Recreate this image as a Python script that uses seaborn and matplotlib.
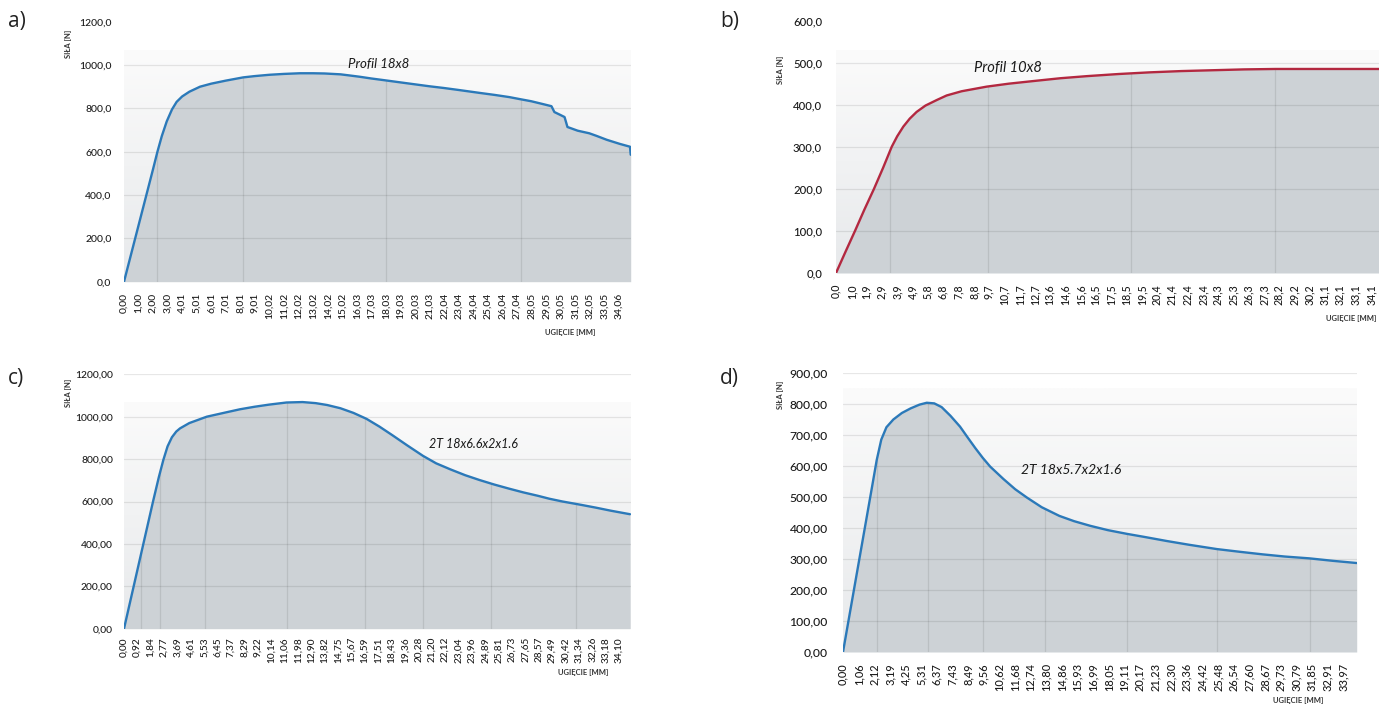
import numpy as np
import matplotlib
matplotlib.use("Agg")
import matplotlib.pyplot as plt
import seaborn as sns
from matplotlib.colors import LinearSegmentedColormap

sns.set_theme(style="white")
plt.rcParams['font.family'] = ['Lato', 'DejaVu Sans']

# ---------------- data ----------------
# a) Profil 18x8
a_x = [0.00, 0.50, 1.00, 1.50, 2.00, 2.30, 2.60, 2.94, 3.30, 3.62, 4.00, 4.50, 5.23, 6.00,
       7.00, 8.20, 9.00, 10.00, 11.00, 12.10, 13.00, 13.80, 14.90, 15.50, 16.20, 17.00, 17.90,
       19.00, 20.00, 21.00, 22.00, 23.00, 24.50, 25.50, 26.50, 27.20, 28.00, 28.80, 29.40, 29.60,
       30.00, 30.30, 30.50, 31.20, 32.00, 32.50, 33.20, 34.10, 34.80, 34.85]
a_y = [0, 130, 260, 390, 520, 600, 672, 740, 795, 830, 855, 877, 900, 914,
       928, 943, 949, 955, 959, 962, 962, 961, 957, 952, 946, 938, 930,
       920, 911, 902, 894, 885, 871, 862, 852, 843, 833, 820, 810, 783,
       770, 760, 714, 697, 685, 673, 655, 636, 623, 586]
a_xticklabels = ["0,00", "1,00", "2,00", "3,00", "4,01", "5,01", "6,01", "7,01", "8,01", "9,01",
                 "10,02", "11,02", "12,02", "13,02", "14,02", "15,02", "16,03", "17,03", "18,03",
                 "19,03", "20,03", "21,03", "22,04", "23,04", "24,04", "25,04", "26,04", "27,04",
                 "28,05", "29,05", "30,05", "31,05", "32,05", "33,05", "34,06"]
a_yticks = [0, 200, 400, 600, 800, 1000, 1200]
a_yticklabels = ["0,0", "200,0", "400,0", "600,0", "800,0", "1000,0", "1200,0"]
a_title = "Profil 18x8"

# b) Profil 10x8
b_x = [0.00, 0.60, 1.21, 1.80, 2.42, 3.00, 3.55, 3.90, 4.29, 4.70, 5.14, 5.70, 6.41, 7.05, 8.00,
       9.60, 11.00, 12.50, 14.30, 16.00, 18.00, 20.00, 22.00, 24.00, 26.00, 28.00, 30.00, 32.00, 34.60]
b_y = [0, 50, 100, 150, 200, 250, 300, 325, 348, 367, 383, 398, 411, 422, 432,
       443, 450, 456, 463, 468, 473, 477, 480, 482, 484, 485, 485, 485, 485]
b_xticklabels = ["0,0", "1,0", "1,9", "2,9", "3,9", "4,9", "5,8", "6,8", "7,8", "8,8", "9,7", "10,7",
                 "11,7", "12,7", "13,6", "14,6", "15,6", "16,5", "17,5", "18,5", "19,5", "20,4",
                 "21,4", "22,4", "23,4", "24,3", "25,3", "26,3", "27,3", "28,2", "29,2", "30,2",
                 "31,1", "32,1", "33,1", "34,1"]
b_yticks = [0, 100, 200, 300, 400, 500, 600]
b_yticklabels = ["0,0", "100,0", "200,0", "300,0", "400,0", "500,0", "600,0"]
b_title = "Profil 10x8"

# c) 2T 18x6.6x2x1.6
c_x = [0.00, 0.50, 1.00, 1.50, 2.00, 2.40, 2.71, 3.00, 3.30, 3.60, 3.86, 4.50, 5.70, 7.00,
       7.99, 9.00, 10.00, 11.20, 12.30, 13.20, 14.00, 14.90, 15.80, 16.70, 17.60, 18.50, 19.50,
       20.60, 21.50, 22.50, 23.50, 24.50, 25.50, 26.50, 27.50, 28.50, 29.30, 30.20, 31.50, 32.50,
       33.50, 34.85]
c_y = [0, 150, 300, 450, 600, 715, 796, 860, 903, 930, 945, 970, 1000, 1020,
       1035, 1047, 1057, 1067, 1069, 1064, 1055, 1040, 1018, 990, 953, 912, 865,
       815, 780, 751, 724, 701, 680, 661, 643, 627, 613, 600, 584, 571,
       557, 540]
c_xticklabels = ["0,00", "0,92", "1,84", "2,77", "3,69", "4,61", "5,53", "6,45", "7,37", "8,29",
                 "9,22", "10,14", "11,06", "11,98", "12,90", "13,82", "14,75", "15,67", "16,59",
                 "17,51", "18,43", "19,36", "20,28", "21,20", "22,12", "23,04", "23,96", "24,89",
                 "25,81", "26,73", "27,65", "28,57", "29,49", "30,42", "31,34", "32,26", "33,18",
                 "34,10"]
c_yticks = [0, 200, 400, 600, 800, 1000, 1200]
c_yticklabels = ["0,00", "200,00", "400,00", "600,00", "800,00", "1000,00", "1200,00"]
c_title = "2T 18x6.6x2x1.6"

# d) 2T 18x5.7x2x1.6
d_x = [0.00, 0.50, 1.00, 1.50, 2.00, 2.29, 2.60, 2.95, 3.42, 4.00, 4.60, 5.20, 5.69,
       6.20, 6.70, 7.30, 7.95, 8.50, 9.00, 9.50, 10.00, 10.90, 11.70, 12.50, 13.50, 14.70,
       15.70, 16.80, 18.00, 19.30, 20.50, 22.00, 23.50, 25.40, 27.00, 28.50, 30.00, 31.70, 33.30,
       34.90]
d_y = [0, 135, 270, 405, 540, 619, 685, 725, 750, 771, 786, 798, 804,
       802, 790, 762, 727, 690, 657, 626, 598, 558, 525, 498, 467, 439,
       422, 407, 393, 381, 371, 358, 346, 332, 323, 315, 308, 302, 294,
       287]
d_xticklabels = ["0,00", "1,06", "2,12", "3,19", "4,25", "5,31", "6,37", "7,43", "8,49", "9,56",
                 "10,62", "11,68", "12,74", "13,80", "14,86", "15,93", "16,99", "18,05", "19,11",
                 "20,17", "21,23", "22,30", "23,36", "24,42", "25,48", "26,54", "27,60", "28,67",
                 "29,73", "30,79", "31,85", "32,91", "33,97"]
d_yticks = [0, 100, 200, 300, 400, 500, 600, 700, 800, 900]
d_yticklabels = ["0,00", "100,00", "200,00", "300,00", "400,00", "500,00", "600,00", "700,00",
                 "800,00", "900,00"]
d_title = "2T 18x5.7x2x1.6"

y_label = "SIŁA [N]"
x_label = "UGIĘCIE [MM]"
panel_letters = ["a)", "b)", "c)", "d)"]

# ---------------- figure ----------------
W, H = 1379, 704
fig = plt.figure(figsize=(W / 100, H / 100), dpi=100)
fig.patch.set_facecolor("white")

BLUE = "#2b79b9"
RED = "#b32840"
FILL = "#cdd2d6"
TXT = "#1a1a1a"
bg_cmap = LinearSegmentedColormap.from_list("bg", ["#e7e9eb", "#fbfbfb"])


def add_axes_px(left, right, top, bottom):
    return fig.add_axes([left / W, 1 - bottom / H, (right - left) / W, (bottom - top) / H])


def draw(ax, x, y, color, xmax, ymax, yticks, yticklabels, xticklabels, grid_vals,
         vlines, bg_top, title, title_xy, title_size, tick_size, xtick_size, ypad, xpad):
    x = np.asarray(x, float)
    y = np.asarray(y, float)
    grad = np.linspace(1, 0, 256).reshape(-1, 1)
    ax.imshow(grad, cmap=bg_cmap, extent=(0, xmax, 0, bg_top), aspect="auto",
              origin="upper", zorder=0, interpolation="bilinear")
    ax.fill_between(x, y, 0, color=FILL, lw=0, zorder=1)
    for v in vlines:
        ax.vlines(v, 0, np.interp(v, x, y), color="k", alpha=0.1, lw=0.9, zorder=2)
    for g in grid_vals:
        ax.axhline(g, color="k", alpha=0.1, lw=0.9, zorder=2)
    sns.lineplot(x=x, y=y, ax=ax, color=color, lw=1.7, sort=False, estimator=None, zorder=3)
    ax.set_xlim(0, xmax)
    ax.set_ylim(0, ymax)
    xt = [float(s.replace(",", ".")) for s in xticklabels]
    ax.set_xticks(xt)
    ax.set_xticklabels(xticklabels, rotation=90, fontsize=xtick_size, color=TXT,
                       fontweight="medium")
    ax.set_yticks(yticks)
    ax.set_yticklabels(yticklabels, fontsize=tick_size, color=TXT, fontweight="medium")
    ax.tick_params(axis="x", length=0, pad=xpad)
    ax.tick_params(axis="y", length=0, pad=ypad)
    for s in ax.spines.values():
        s.set_visible(False)
    ax.set_xlabel("")
    ax.set_ylabel("")
    ax.grid(False)
    ax.text(title_xy[0], title_xy[1], title, style="italic", ha="center", va="center",
            fontsize=title_size, color=TXT, zorder=4)


# a)
ax_a = add_axes_px(124, 631, 21.7, 281.7)
draw(ax_a, a_x, a_y, BLUE, 34.87, 1200, a_yticks, a_yticklabels, a_xticklabels,
     [200, 400, 600, 800, 1000], [2.27, 8.2, 18.0, 27.3], 1069, a_title, (17.5, 1005),
     9.5, 7.5, 7.4, 9, 8)

# b)
ax_b = add_axes_px(836, 1379, 20.6, 273)
draw(ax_b, b_x, b_y, RED, 34.6, 600, b_yticks, b_yticklabels, b_xticklabels,
     [100, 200, 300, 400, 500], [3.44, 9.7, 18.8, 28.0], 530, b_title, (10.96, 487),
     10.5, 8.2, 7.6, 10, 8)

# c)
ax_c = add_axes_px(124, 631, 374.3, 628.7)
draw(ax_c, c_x, c_y, BLUE, 34.92, 1200, c_yticks, c_yticklabels, c_xticklabels,
     [200, 400, 600, 800, 1000, 1200], [1.2, 2.5, 5.6, 11.2, 16.6, 20.6, 25.3, 31.1], 1069,
     c_title, (24.1, 871), 9.0, 7.4, 7.2, 8, 6)

# d)
ax_d = add_axes_px(843, 1357, 373, 652)
draw(ax_d, d_x, d_y, BLUE, 34.92, 900, d_yticks, d_yticklabels, d_xticklabels,
     [100, 200, 300, 400, 500, 600, 700, 800, 900], [2.31, 5.77, 9.51, 13.7, 19.3, 25.4, 31.7],
     850, d_title, (15.5, 587), 10.0, 8.7, 7.9, 11, 8)

# axis titles (figure pixel positions)
def ftext(xp, yp, s, **kw):
    fig.text(xp / W, 1 - yp / H, s, **kw)

for (xp, yp) in [(68, 44), (781, 70), (69, 393), (781, 395)]:
    ftext(xp, yp, y_label, rotation=90, ha="center", va="center", fontsize=5.5,
          color="#333333", fontweight="bold")
for (xp, yp) in [(570, 332), (1351, 318), (583, 672), (1298, 700)]:
    ftext(xp, yp, x_label, ha="center", va="center", fontsize=5.5, color="#333333",
          fontweight="bold")

for (xp, yp), s in zip([(8, 22), (720, 22), (8, 378), (720, 378)], panel_letters):
    ftext(xp, yp, s, ha="left", va="center", fontsize=15, color="#222222",
          family=["Open Sans", "DejaVu Sans"])

fig.savefig("out.png", dpi=100, facecolor="white")
